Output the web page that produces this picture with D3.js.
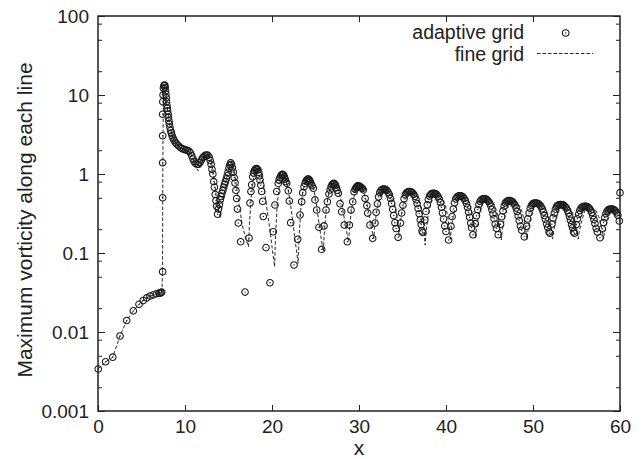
<!DOCTYPE html>
<html>
<head>
<meta charset="utf-8">
<script src="https://cdn.jsdelivr.net/npm/d3@7/dist/d3.min.js"></script>
<style>
  body { margin: 0; background: #fff; }
  svg text { font-family: "Liberation Sans", Arial, Helvetica, sans-serif; fill: #222; }
</style>
</head>
<body>
<div id="chart"></div>
<script>
// x tick values and y decade ticks
var xTicks = [0, 10, 20, 30, 40, 50, 60];
var yTicks = [0.001, 0.01, 0.1, 1, 10, 100];
var yTickLabels = ["0.001", "0.01", "0.1", "1", "10", "100"];
var yMinorTicks = [0.002, 0.005, 0.008, 0.02, 0.05, 0.08, 0.2, 0.5, 0.8, 2, 5, 8, 20, 50, 80];

// adaptive grid: [x, max vorticity]
var adaptiveGrid = [
  [0.03,0.0034],[0.88,0.0042],[1.69,0.0048],[2.53,0.0089],[3.3,0.014],[4.06,0.0185],[4.71,0.0224],[5.2,0.025],
  [5.6,0.027],[5.98,0.0285],[6.36,0.0295],[6.75,0.0305],[7.0,0.031],[7.13,0.031],[7.25,0.0315],[7.32,0.032],
  [7.43,0.058],[7.43,0.5],[7.43,1.39],[7.43,3.05],[7.43,5.7],[7.45,8.2],[7.48,10],[7.52,12.2],[7.58,13.1],
  [7.63,13.4],[7.68,13.2],[7.72,12.4],[7.76,11.2],[7.8,10.2],[7.84,9.2],[7.88,8.2],[7.92,7.4],[7.96,6.8],
  [8.0,6.3],[8.05,5.7],[8.1,5.2],[8.15,4.7],[8.2,4.3],[8.27,3.9],[8.35,3.55],[8.43,3.3],[8.52,3.05],[8.62,2.85],
  [8.74,2.68],[8.88,2.52],[9.05,2.4],[9.25,2.27],[9.45,2.17],[9.65,2.1],[9.85,2.05],[10.05,2.02],[10.25,2.0],
  [10.45,1.95],[10.62,1.85],[10.78,1.7],[10.92,1.55],[11.05,1.44],[11.2,1.37],[11.38,1.33],[11.55,1.33],
  [11.72,1.4],[11.88,1.5],[12.03,1.6],[12.18,1.67],[12.33,1.72],[12.48,1.74],[12.63,1.72],[12.78,1.63],
  [12.9,1.48],[13.0,1.33],[13.1,1.15],[13.2,1.0],[13.3,0.8],[13.38,0.68],[13.47,0.55],[13.56,0.46],[13.64,0.39],
  [13.75,0.31],[13.85,0.36],[13.95,0.41],[14.05,0.47],[14.15,0.52],[14.25,0.57],[14.35,0.62],[14.45,0.68],
  [14.55,0.74],[14.65,0.8],[14.75,0.87],[14.85,0.95],[14.95,1.05],[15.05,1.18],[15.15,1.3],[15.25,1.39],
  [15.35,1.33],[15.45,1.2],[15.55,1.05],[15.65,0.9],[15.75,0.77],[15.85,0.62],[15.94,0.49],[16.03,0.36],
  [16.13,0.24],[16.4,0.139],[16.9,0.032],
  [17.36,0.155],[17.47,0.43],[17.58,0.6],[17.67,0.73],[17.78,0.92],[17.88,1.03],[17.98,1.1],[18.08,1.15],
  [18.18,1.17],[18.28,1.16],[18.38,1.13],[18.48,1.05],[18.56,0.95],[18.62,0.84],[18.72,0.72],[18.82,0.6],
  [18.93,0.45],[19.0,0.29],[19.31,0.117],[19.77,0.042],
  [20.15,0.186],[20.34,0.405],[20.54,0.6],[20.72,0.76],[20.82,0.84],[20.92,0.9],[21.02,0.95],[21.12,0.98],
  [21.22,0.99],[21.32,0.97],[21.42,0.92],[21.52,0.86],[21.6,0.8],[21.69,0.76],[21.87,0.615],[21.99,0.455],
  [22.15,0.242],[22.53,0.0705],
  [22.95,0.149],[23.22,0.303],[23.41,0.446],[23.53,0.58],[23.68,0.69],[23.8,0.76],[23.9,0.81],[24.0,0.84],
  [24.1,0.86],[24.2,0.86],[24.3,0.84],[24.4,0.8],[24.5,0.75],[24.6,0.71],[24.75,0.66],[24.94,0.47],[25.14,0.35],
  [25.4,0.211],[25.71,0.111],
  [25.98,0.22],[26.21,0.35],[26.36,0.446],[26.55,0.558],[26.68,0.63],[26.8,0.69],[26.9,0.73],[27.0,0.75],
  [27.1,0.76],[27.2,0.75],[27.3,0.72],[27.4,0.67],[27.5,0.62],[27.62,0.57],[27.82,0.42],[28.01,0.333],
  [28.31,0.226],[28.66,0.139],
  [28.89,0.226],[29.08,0.35],[29.28,0.446],[29.43,0.597],[29.55,0.64],[29.65,0.67],[29.75,0.69],[29.85,0.71],
  [29.95,0.71],[30.05,0.7],[30.15,0.69],[30.27,0.67],[30.38,0.655],[30.5,0.63],[30.7,0.49],[30.9,0.40],
  [31.0,0.32],[31.26,0.226],[31.57,0.153],
  [31.84,0.239],[31.97,0.328],[32.12,0.419],[32.25,0.513],[32.39,0.583],[32.52,0.618],[32.65,0.637],[32.79,0.645],
  [32.93,0.645],[33.07,0.637],[33.21,0.619],[33.35,0.585],[33.49,0.545],[33.63,0.488],[33.75,0.424],[33.87,0.357],
  [33.99,0.298],[34.13,0.241],[34.27,0.204],[34.5,0.158],
  [34.77,0.239],[34.9,0.321],[35.05,0.402],[35.18,0.485],[35.32,0.547],[35.45,0.577],[35.58,0.592],[35.72,0.6],
  [35.86,0.6],[36.0,0.593],[36.14,0.579],[36.28,0.553],[36.42,0.521],[36.56,0.474],[36.68,0.422],[36.8,0.366],
  [36.92,0.314],[37.05,0.263],[37.15,0.229],[37.25,0.19],[37.34,0.182],
  [37.57,0.262],[37.7,0.336],[37.85,0.407],[37.98,0.476],[38.12,0.527],[38.25,0.551],[38.38,0.564],[38.52,0.57],
  [38.66,0.57],[38.8,0.562],[38.94,0.547],[39.08,0.518],[39.22,0.484],[39.36,0.434],[39.48,0.379],[39.6,0.321],
  [39.72,0.269],[39.86,0.22],[40.0,0.187],[40.3,0.146],
  [40.57,0.218],[40.7,0.289],[40.85,0.36],[40.98,0.431],[41.12,0.484],[41.25,0.51],[41.38,0.523],[41.52,0.53],
  [41.66,0.53],[41.8,0.524],[41.94,0.512],[42.08,0.489],[42.22,0.462],[42.36,0.422],[42.48,0.377],[42.6,0.329],
  [42.72,0.283],[42.84,0.239],[42.95,0.209],[43.1,0.17],
  [43.37,0.235],[43.5,0.296],[43.65,0.354],[43.78,0.41],[43.92,0.45],[44.05,0.47],[44.18,0.48],[44.32,0.485],
  [44.46,0.485],[44.6,0.48],[44.74,0.47],[44.88,0.45],[45.02,0.428],[45.16,0.393],[45.28,0.354],[45.4,0.312],
  [45.52,0.272],[45.66,0.233],[45.8,0.205],[46.0,0.17],
  [46.27,0.231],[46.4,0.288],[46.55,0.341],[46.68,0.392],[46.82,0.429],[46.95,0.446],[47.08,0.456],[47.22,0.46],
  [47.36,0.46],[47.5,0.455],[47.64,0.446],[47.78,0.427],[47.92,0.405],[48.06,0.372],[48.18,0.335],[48.3,0.295],
  [48.42,0.257],[48.56,0.219],[48.7,0.194],[49.0,0.16],
  [49.27,0.218],[49.4,0.27],[49.55,0.32],[49.68,0.367],[49.82,0.401],[49.95,0.418],[50.08,0.426],[50.22,0.43],
  [50.36,0.43],[50.5,0.426],[50.64,0.419],[50.78,0.405],[50.92,0.388],[51.06,0.361],[51.18,0.331],[51.3,0.298],
  [51.42,0.267],[51.56,0.234],[51.7,0.211],[51.85,0.185],[51.95,0.178],
  [52.17,0.232],[52.3,0.278],[52.45,0.32],[52.58,0.359],[52.72,0.387],[52.85,0.4],[52.98,0.407],[53.12,0.41],
  [53.26,0.41],[53.4,0.407],[53.54,0.4],[53.68,0.387],[53.82,0.371],[53.96,0.348],[54.08,0.32],[54.2,0.29],
  [54.32,0.26],[54.44,0.23],[54.55,0.208],[54.66,0.185],[54.76,0.178],
  [54.97,0.229],[55.1,0.271],[55.25,0.309],[55.38,0.345],[55.52,0.369],[55.65,0.381],[55.78,0.387],[55.92,0.39],
  [56.06,0.39],[56.2,0.386],[56.34,0.379],[56.48,0.366],[56.62,0.349],[56.76,0.325],[56.88,0.296],[57.0,0.266],
  [57.12,0.236],[57.26,0.205],[57.4,0.184],[57.7,0.156],
  [57.97,0.202],[58.1,0.243],[58.25,0.28],[58.38,0.315],[58.52,0.339],[58.65,0.351],[58.78,0.357],[58.92,0.36],
  [59.06,0.36],[59.2,0.357],[59.34,0.351],[59.48,0.339],[59.62,0.322],[59.75,0.3],[59.92,0.254],[60.0,0.58]
];

// fine grid reference solution: [x, max vorticity]
var fineGrid = [
  [0,0.0034],[0.88,0.0042],[1.69,0.0048],[2.53,0.0089],[3.3,0.014],[4.06,0.0185],[4.71,0.0224],[5.2,0.025],
  [5.6,0.027],[6.0,0.0285],[6.4,0.0295],[6.8,0.0305],[7.1,0.031],[7.35,0.032],[7.42,0.06],[7.44,0.5],[7.47,3],
  [7.52,8],[7.6,13.4],[7.7,11.8],[7.8,9.6],[7.9,7.8],[8.0,6.4],[8.2,4.4],[8.4,3.5],[8.7,2.7],[9.0,2.4],[9.4,2.18],
  [9.8,2.05],[10.2,2.0],[10.6,1.88],[10.9,1.6],[11.2,1.25],[11.5,1.1],[11.9,1.35],[12.3,1.62],[12.7,1.75],
  [13.0,1.5],[13.3,0.95],[13.6,0.52],[13.9,0.33],[14.05,0.28],[14.3,0.42],[14.6,0.68],[14.9,1.05],[15.3,1.45],
  [15.6,1.2],[15.9,0.72],[16.2,0.42],[16.6,0.22],[17.0,0.15],[17.3,0.12],
  [17.4,0.22],[17.6,0.5],[17.85,0.85],[18.1,1.1],[18.4,1.2],[18.7,1.05],[19.0,0.75],[19.3,0.45],[19.7,0.22],
  [20.0,0.12],[20.3,0.067],
  [20.4,0.16],[20.6,0.42],[20.85,0.72],[21.2,1.0],[21.55,0.9],[21.85,0.65],[22.15,0.4],[22.5,0.2],[22.8,0.11],[23.0,0.074],
  [23.1,0.15],[23.3,0.35],[23.55,0.6],[23.85,0.8],[24.2,0.87],[24.55,0.8],[24.85,0.6],[25.15,0.38],[25.5,0.2],
  [25.75,0.13],[25.9,0.104],
  [26.0,0.17],[26.2,0.33],[26.45,0.52],[26.75,0.7],[27.1,0.77],[27.45,0.72],[27.75,0.57],[28.05,0.4],[28.4,0.24],
  [28.65,0.17],[28.8,0.139],
  [28.9,0.2],[29.1,0.33],[29.35,0.48],[29.65,0.63],[30.0,0.7],[30.35,0.66],[30.65,0.54],[30.95,0.4],[31.3,0.25],
  [31.55,0.18],[31.7,0.153],
  [31.8,0.216],[32.0,0.319],[32.25,0.435],[32.55,0.543],[32.75,0.616],[33.05,0.64],[33.35,0.616],[33.75,0.544],
  [34.05,0.439],[34.3,0.324],[34.5,0.223],[34.6,0.161],
  [34.7,0.218],[34.9,0.31],[35.15,0.416],[35.45,0.512],[35.7,0.578],[36.0,0.6],[36.3,0.576],[36.75,0.505],
  [37.05,0.401],[37.3,0.287],[37.5,0.188],[37.6,0.126],
  [37.7,0.184],[37.9,0.277],[38.15,0.384],[38.45,0.481],[38.6,0.548],[38.9,0.57],[39.2,0.549],[39.65,0.486],
  [39.95,0.393],[40.2,0.292],[40.4,0.204],[40.5,0.149],
  [40.6,0.199],[40.8,0.279],[41.05,0.37],[41.35,0.454],[41.5,0.511],[41.8,0.53],[42.1,0.511],[42.55,0.455],
  [42.85,0.373],[43.1,0.283],[43.3,0.205],[43.4,0.156],
  [43.5,0.199],[43.7,0.27],[43.95,0.35],[44.25,0.423],[44.4,0.473],[44.7,0.49],[45.0,0.473],[45.5,0.421],
  [45.8,0.346],[46.05,0.263],[46.25,0.191],[46.35,0.146],
  [46.45,0.187],[46.65,0.253],[46.9,0.328],[47.2,0.397],[47.35,0.444],[47.65,0.46],[47.95,0.444],[48.45,0.398],
  [48.75,0.329],[49.0,0.255],[49.2,0.189],[49.3,0.149],
  [49.4,0.186],[49.6,0.245],[49.85,0.312],[50.1,0.374],[50.3,0.416],[50.55,0.43],[50.85,0.416],[51.4,0.374],
  [51.7,0.312],[51.95,0.245],[52.15,0.186],[52.25,0.15],
  [52.35,0.184],[52.55,0.238],[52.8,0.301],[53.05,0.358],[53.25,0.397],[53.5,0.41],[53.8,0.397],[54.35,0.358],
  [54.65,0.301],[54.9,0.238],[55.1,0.184],[55.2,0.15],
  [55.3,0.181],[55.5,0.232],[55.75,0.289],[55.95,0.342],[56.15,0.378],[56.4,0.39],[56.7,0.378],[57.25,0.342],
  [57.55,0.289],[57.8,0.232],[58.0,0.181],[58.1,0.15],
  [58.2,0.177],[58.4,0.221],[58.65,0.272],[58.9,0.318],[59.05,0.35],[59.3,0.36],[59.6,0.35],[59.85,0.32],[60,0.29]
];

var width = 644, height = 459;
var margin = {top: 16, right: 24, bottom: 48, left: 98};
var w = width - margin.left - margin.right;
var h = height - margin.top - margin.bottom;

var svg = d3.select("#chart").append("svg")
    .attr("width", width)
    .attr("height", height);

var g = svg.append("g")
    .attr("transform", "translate(" + margin.left + "," + margin.top + ")");

var x = d3.scaleLinear().domain([0, 60]).range([0, w]);
var y = d3.scaleLog().domain([0.001, 100]).range([h, 0]);

var ink = "#222";

// bottom axis with labels, ticks pointing inward
g.append("g")
    .attr("transform", "translate(0," + h + ")")
    .call(d3.axisBottom(x).tickValues(xTicks).tickSizeInner(-6).tickSizeOuter(0).tickPadding(9));
// top axis, ticks only
g.append("g")
    .call(d3.axisTop(x).tickValues(xTicks.slice(1, -1)).tickSizeInner(-6).tickSizeOuter(0).tickFormat(""));

// left axis
g.append("g")
    .call(d3.axisLeft(y).tickValues(yTicks).tickSizeInner(-7).tickSizeOuter(0).tickPadding(9)
      .tickFormat(function(d, i) { return yTickLabels[i]; }));
g.append("g")
    .call(d3.axisLeft(y).tickValues(yMinorTicks).tickSizeInner(-4).tickSizeOuter(0).tickFormat(""));
// right axis
g.append("g")
    .attr("transform", "translate(" + w + ",0)")
    .call(d3.axisRight(y).tickValues(yTicks).tickSizeInner(-7).tickSizeOuter(0).tickFormat(""));
g.append("g")
    .attr("transform", "translate(" + w + ",0)")
    .call(d3.axisRight(y).tickValues(yMinorTicks).tickSizeInner(-4).tickSizeOuter(0).tickFormat(""));

g.selectAll(".domain").remove();
g.selectAll(".tick line").attr("stroke", ink).attr("stroke-width", 1);
g.selectAll(".tick text").style("font-size", "19px").attr("fill", ink);

// frame
g.append("rect")
    .attr("width", w)
    .attr("height", h)
    .attr("fill", "none")
    .attr("stroke", ink)
    .attr("stroke-width", 1.5);

// fine grid dashed line
var line = d3.line()
    .x(function(d) { return x(d[0]); })
    .y(function(d) { return y(d[1]); });

g.append("path")
    .datum(fineGrid)
    .attr("d", line)
    .attr("fill", "none")
    .attr("stroke", "#111")
    .attr("stroke-width", 0.9)
    .attr("stroke-dasharray", "3.5,2");

// adaptive grid points (circle with centre dot)
var pts = g.append("g").selectAll("g")
    .data(adaptiveGrid)
    .enter().append("g")
    .attr("transform", function(d) { return "translate(" + x(d[0]) + "," + y(d[1]) + ")"; });
pts.append("circle")
    .attr("r", 3.3)
    .attr("fill", "none")
    .attr("stroke", "#1a1a1a")
    .attr("stroke-width", 1.05);
pts.append("circle")
    .attr("r", 0.7)
    .attr("fill", "#1a1a1a");

// legend
var legend = g.append("g");
legend.append("text")
    .attr("x", 426).attr("y", 16.5)
    .attr("dy", "0.35em")
    .attr("text-anchor", "end")
    .style("font-size", "19.5px")
    .text("adaptive grid");
legend.append("circle")
    .attr("cx", 467.7).attr("cy", 17).attr("r", 3.3)
    .attr("fill", "none").attr("stroke", "#1a1a1a").attr("stroke-width", 1.05);
legend.append("circle")
    .attr("cx", 467.7).attr("cy", 17).attr("r", 0.7)
    .attr("fill", "#1a1a1a");
legend.append("text")
    .attr("x", 426).attr("y", 38.5)
    .attr("dy", "0.35em")
    .attr("text-anchor", "end")
    .style("font-size", "19.5px")
    .text("fine grid");
legend.append("line")
    .attr("x1", 439).attr("x2", 495)
    .attr("y1", 37.5).attr("y2", 37.5)
    .attr("stroke", "#111")
    .attr("stroke-width", 0.9)
    .attr("stroke-dasharray", "3.5,2");

// axis titles
svg.append("text")
    .attr("x", margin.left + w / 2)
    .attr("y", 455)
    .attr("text-anchor", "middle")
    .style("font-size", "21px")
    .text("x");

svg.append("text")
    .attr("transform", "translate(32,220) rotate(-90)")
    .attr("text-anchor", "middle")
    .style("font-size", "21px")
    .text("Maximum vorticity along each line");
</script>
</body>
</html>
